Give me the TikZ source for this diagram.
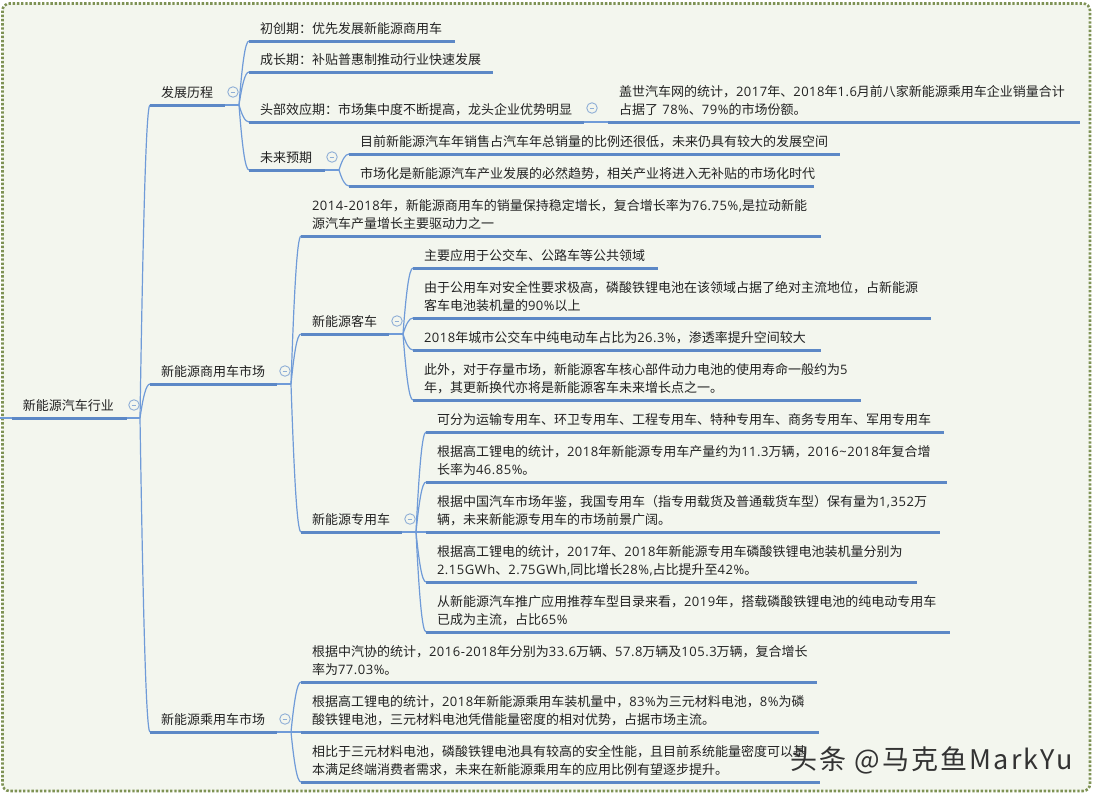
\documentclass[tikz,border=0pt]{standalone}
\usepackage{fontspec}
\setmainfont{Noto Sans CJK SC}
\newfontfamily\markfont[LetterSpace=8]{Noto Sans CJK SC}
\newfontfamily\latinfont[LetterSpace=4]{Open Sans}
\newcommand\nm[1]{{\latinfont #1}}
\newcommand\fc{\char"FF0C\relax}
\newcommand\fcl{\char"FF1A\relax}
\newcommand\flp{\char"FF08\relax}
\newcommand\frp{\char"FF09\relax}
\usetikzlibrary{calc}
\definecolor{bgc}{HTML}{F3F6EE}
\definecolor{framec}{HTML}{7E9254}
\definecolor{thickc}{HTML}{5C88C6}
\definecolor{thinc}{HTML}{6F9BD8}
\definecolor{iconc}{HTML}{8FAFD6}
\definecolor{txtc}{HTML}{222222}
\tikzset{
  topic/.style={anchor=south west,inner xsep=11pt,inner ysep=4.2pt,outer sep=0pt,
    text width=#1pt-22pt,align=left,text=txtc,
    execute at end node={\rule[-3.3pt]{0pt}{3.3pt}},
    font=\fontsize{13}{18}\selectfont},
  uline/.style={line width=3pt,color=thickc},
  conn/.style={line width=1.2pt,color=thinc},
  icon/.style={circle,draw=iconc,line width=.9pt,minimum size=10.5pt,inner sep=0pt,outer sep=0pt,
    path picture={\draw[iconc,line width=.9pt] ([xshift=2.8pt]path picture bounding box.west) -- ([xshift=-2.8pt]path picture bounding box.east);}}
}
\newcommand\topicline[1]{\draw[uline] (#1.south west) -- (#1.south east);}
\newcommand\conn[2]{\draw[conn] let \p1=(#1),\p2=(#2.south west) in (\p1) .. controls ({\x1+0.3*(\x2-\x1)},{\y1+0.6*(\y2-\y1)}) and ({\x2-0.4*(\x2-\x1)},\y2) .. (\p2);}
\newcommand\stub[2]{\draw[conn] (#1.south east) -- (#2);}
\begin{document}
\begin{tikzpicture}[x=1pt,y=-1pt]
\useasboundingbox (0,0) rectangle (1098,796);
\fill[white] (0,0) rectangle (1098,796);
\draw[fill=bgc,draw=framec,line width=2.6pt,dash pattern=on 2.4pt off 1.8pt,rounded corners=7pt] (2.5,3.5) rectangle (1090,791);

% nodes
\node[topic=115] (root) at (12,418) {新能源汽车行业};
\node[topic=75] (a) at (150,105) {发展历程};
\node[topic=127] (b) at (150,384) {新能源商用车市场};
\node[topic=127] (c) at (150,732) {新能源乘用车市场};

\node[topic=206] (a1) at (249,41) {初创期\fcl{}优先发展新能源商用车};
\node[topic=244] (a2) at (249,72) {成长期\fcl{}补贴普惠制推动行业快速发展};
\node[topic=335] (a3) at (249,122) {头部效应期\fcl{}市场集中度不断提高\fc{}龙头企业优势明显};
\node[topic=76] (a4) at (249,170) {未来预期};
\node[topic=472] (a31) at (608,122) {盖世汽车网的统计\fc{}\nm{2017}年、\nm{2018}年\nm{1.6}月前八家新能源乘用车企业销量合计\\占据了 \nm{78\%}、\nm{79\%}的市场份额。};
\node[topic=491] (a41) at (349,154) {目前新能源汽车年销售占汽车年总销量的比例还很低\fc{}未来仍具有较大的发展空间};
\node[topic=465] (a42) at (349,186) {市场化是新能源汽车产业发展的必然趋势\fc{}相关产业将进入无补贴的市场化时代};

\node[topic=520] (b1) at (301,236) {\nm{2014-2018}年\fc{}新能源商用车的销量保持稳定增长\fc{}复合增长率为\nm{76.75\%,}是拉动新能\\源汽车产量增长主要驱动力之一};
\node[topic=88] (b2) at (301,334) {新能源客车};
\node[topic=101] (b3) at (301,532) {新能源专用车};

\node[topic=245] (b21) at (413,268) {主要应用于公交车、公路车等公共领域};
\node[topic=518] (b22) at (413,318) {由于公用车对安全性要求极高\fc{}磷酸铁锂电池在该领域占据了绝对主流地位\fc{}占新能源\\客车电池装机量的\nm{90\%}以上};
\node[topic=408] (b23) at (413,350) {\nm{2018}年城市公交车中纯电动车占比为\nm{26.3\%}\fc{}渗透率提升空间较大};
\node[topic=448] (b24) at (413,400) {此外\fc{}对于存量市场\fc{}新能源客车核心部件动力电池的使用寿命一般约为\nm{5}\\年\fc{}其更新换代亦将是新能源客车未来增长点之一。};

\node[topic=518] (b31) at (426,432) {可分为运输专用车、环卫专用车、工程专用车、特种专用车、商务专用车、军用专用车};
\node[topic=521] (b32) at (426,482) {根据高工锂电的统计\fc{}\nm{2018}年新能源专用车产量约为\nm{11.3}万辆\fc{}\nm{2016\textasciitilde 2018}年复合增\\长率为\nm{46.85\%}。};
\node[topic=514] (b33) at (426,532) {根据中国汽车市场年鉴\fc{}我国专用车\flp{}指专用载货及普通载货车型\frp{}保有量为\nm{1,352}万\\辆\fc{}未来新能源专用车的市场前景广阔。};
\node[topic=491] (b34) at (426,582) {根据高工锂电的统计\fc{}\nm{2017}年、\nm{2018}年新能源专用车磷酸铁锂电池装机量分别为\\\nm{2.15GWh}、\nm{2.75GWh,}同比增长\nm{28\%,}占比提升至\nm{42\%}。};
\node[topic=524] (b35) at (426,632) {从新能源汽车推广应用推荐车型目录来看\fc{}\nm{2019}年\fc{}搭载磷酸铁锂电池的纯电动专用车\\已成为主流\fc{}占比\nm{65\%}};

\node[topic=516] (c1) at (301,682) {根据中汽协的统计\fc{}\nm{2016-2018}年分别为\nm{33.6}万辆、\nm{57.8}万辆及\nm{105.3}万辆\fc{}复合增长\\率为\nm{77.03\%}。};
\node[topic=518] (c2) at (301,732) {根据高工锂电的统计\fc{}\nm{2018}年新能源乘用车装机量中\fc{}\nm{83\%}为三元材料电池\fc{}\nm{8\%}为磷\\酸铁锂电池\fc{}三元材料电池凭借能量密度的相对优势\fc{}占据市场主流。};
\node[topic=519] (c3) at (301,782) {相比于三元材料电池\fc{}磷酸铁锂电池具有较高的安全性能\fc{}且目前系统能量密度可以基\\本满足终端消费者需求\fc{}未来在新能源乘用车的应用比例有望逐步提升。};

% junctions
\coordinate (start) at (0,418);
\coordinate (j0) at (140,418);
\coordinate (ja) at (239,105);
\coordinate (ja4) at (339,170);
\coordinate (jb) at (291,384);
\coordinate (jb2) at (403,334);
\coordinate (jb3) at (416,532);
\coordinate (jc) at (291,732);

% connectors
\draw[conn] (start) -- (root.south west);
\stub{root}{j0}
\stub{a}{ja} \stub{a4}{ja4} \stub{b}{jb} \stub{b2}{jb2} \stub{b3}{jb3} \stub{c}{jc}
\draw[conn] (a3.south east) -- (a31.south west);
\conn{j0}{a} \conn{j0}{b} \conn{j0}{c}
\conn{ja}{a1} \conn{ja}{a2} \conn{ja}{a3} \conn{ja}{a4}
\conn{ja4}{a41} \conn{ja4}{a42}
\conn{jb}{b1} \conn{jb}{b2} \conn{jb}{b3}
\conn{jb2}{b21} \conn{jb2}{b22} \conn{jb2}{b23} \conn{jb2}{b24}
\conn{jb3}{b31} \conn{jb3}{b32} \conn{jb3}{b33} \conn{jb3}{b34} \conn{jb3}{b35}
\conn{jc}{c1} \conn{jc}{c2} \conn{jc}{c3}

% underlines
\topicline{root}\topicline{a}\topicline{b}\topicline{c}
\topicline{a1}\topicline{a2}\topicline{a3}\topicline{a4}\topicline{a31}\topicline{a41}\topicline{a42}
\topicline{b1}\topicline{b2}\topicline{b3}
\topicline{b21}\topicline{b22}\topicline{b23}\topicline{b24}
\topicline{b31}\topicline{b32}\topicline{b33}\topicline{b34}\topicline{b35}
\topicline{c1}\topicline{c2}\topicline{c3}

% collapse icons
\node[icon] (i0) at (134,405) {};
\node[icon] (ia) at (233,92) {};
\node[icon] (ia3) at (592,108) {};
\node[icon] (ia4) at (332,157) {};
\node[icon] (ib) at (285,371) {};
\node[icon] (ib2) at (397,321) {};
\node[icon] (ib3) at (410,519) {};
\node[icon] (ic) at (285,719) {};

% watermark
\node[anchor=west,inner sep=0pt,text=black!80,font=\fontsize{27}{27}\selectfont\markfont] (wm) at (790,760) {头条 @马克鱼MarkYu};
\end{tikzpicture}
\end{document}
